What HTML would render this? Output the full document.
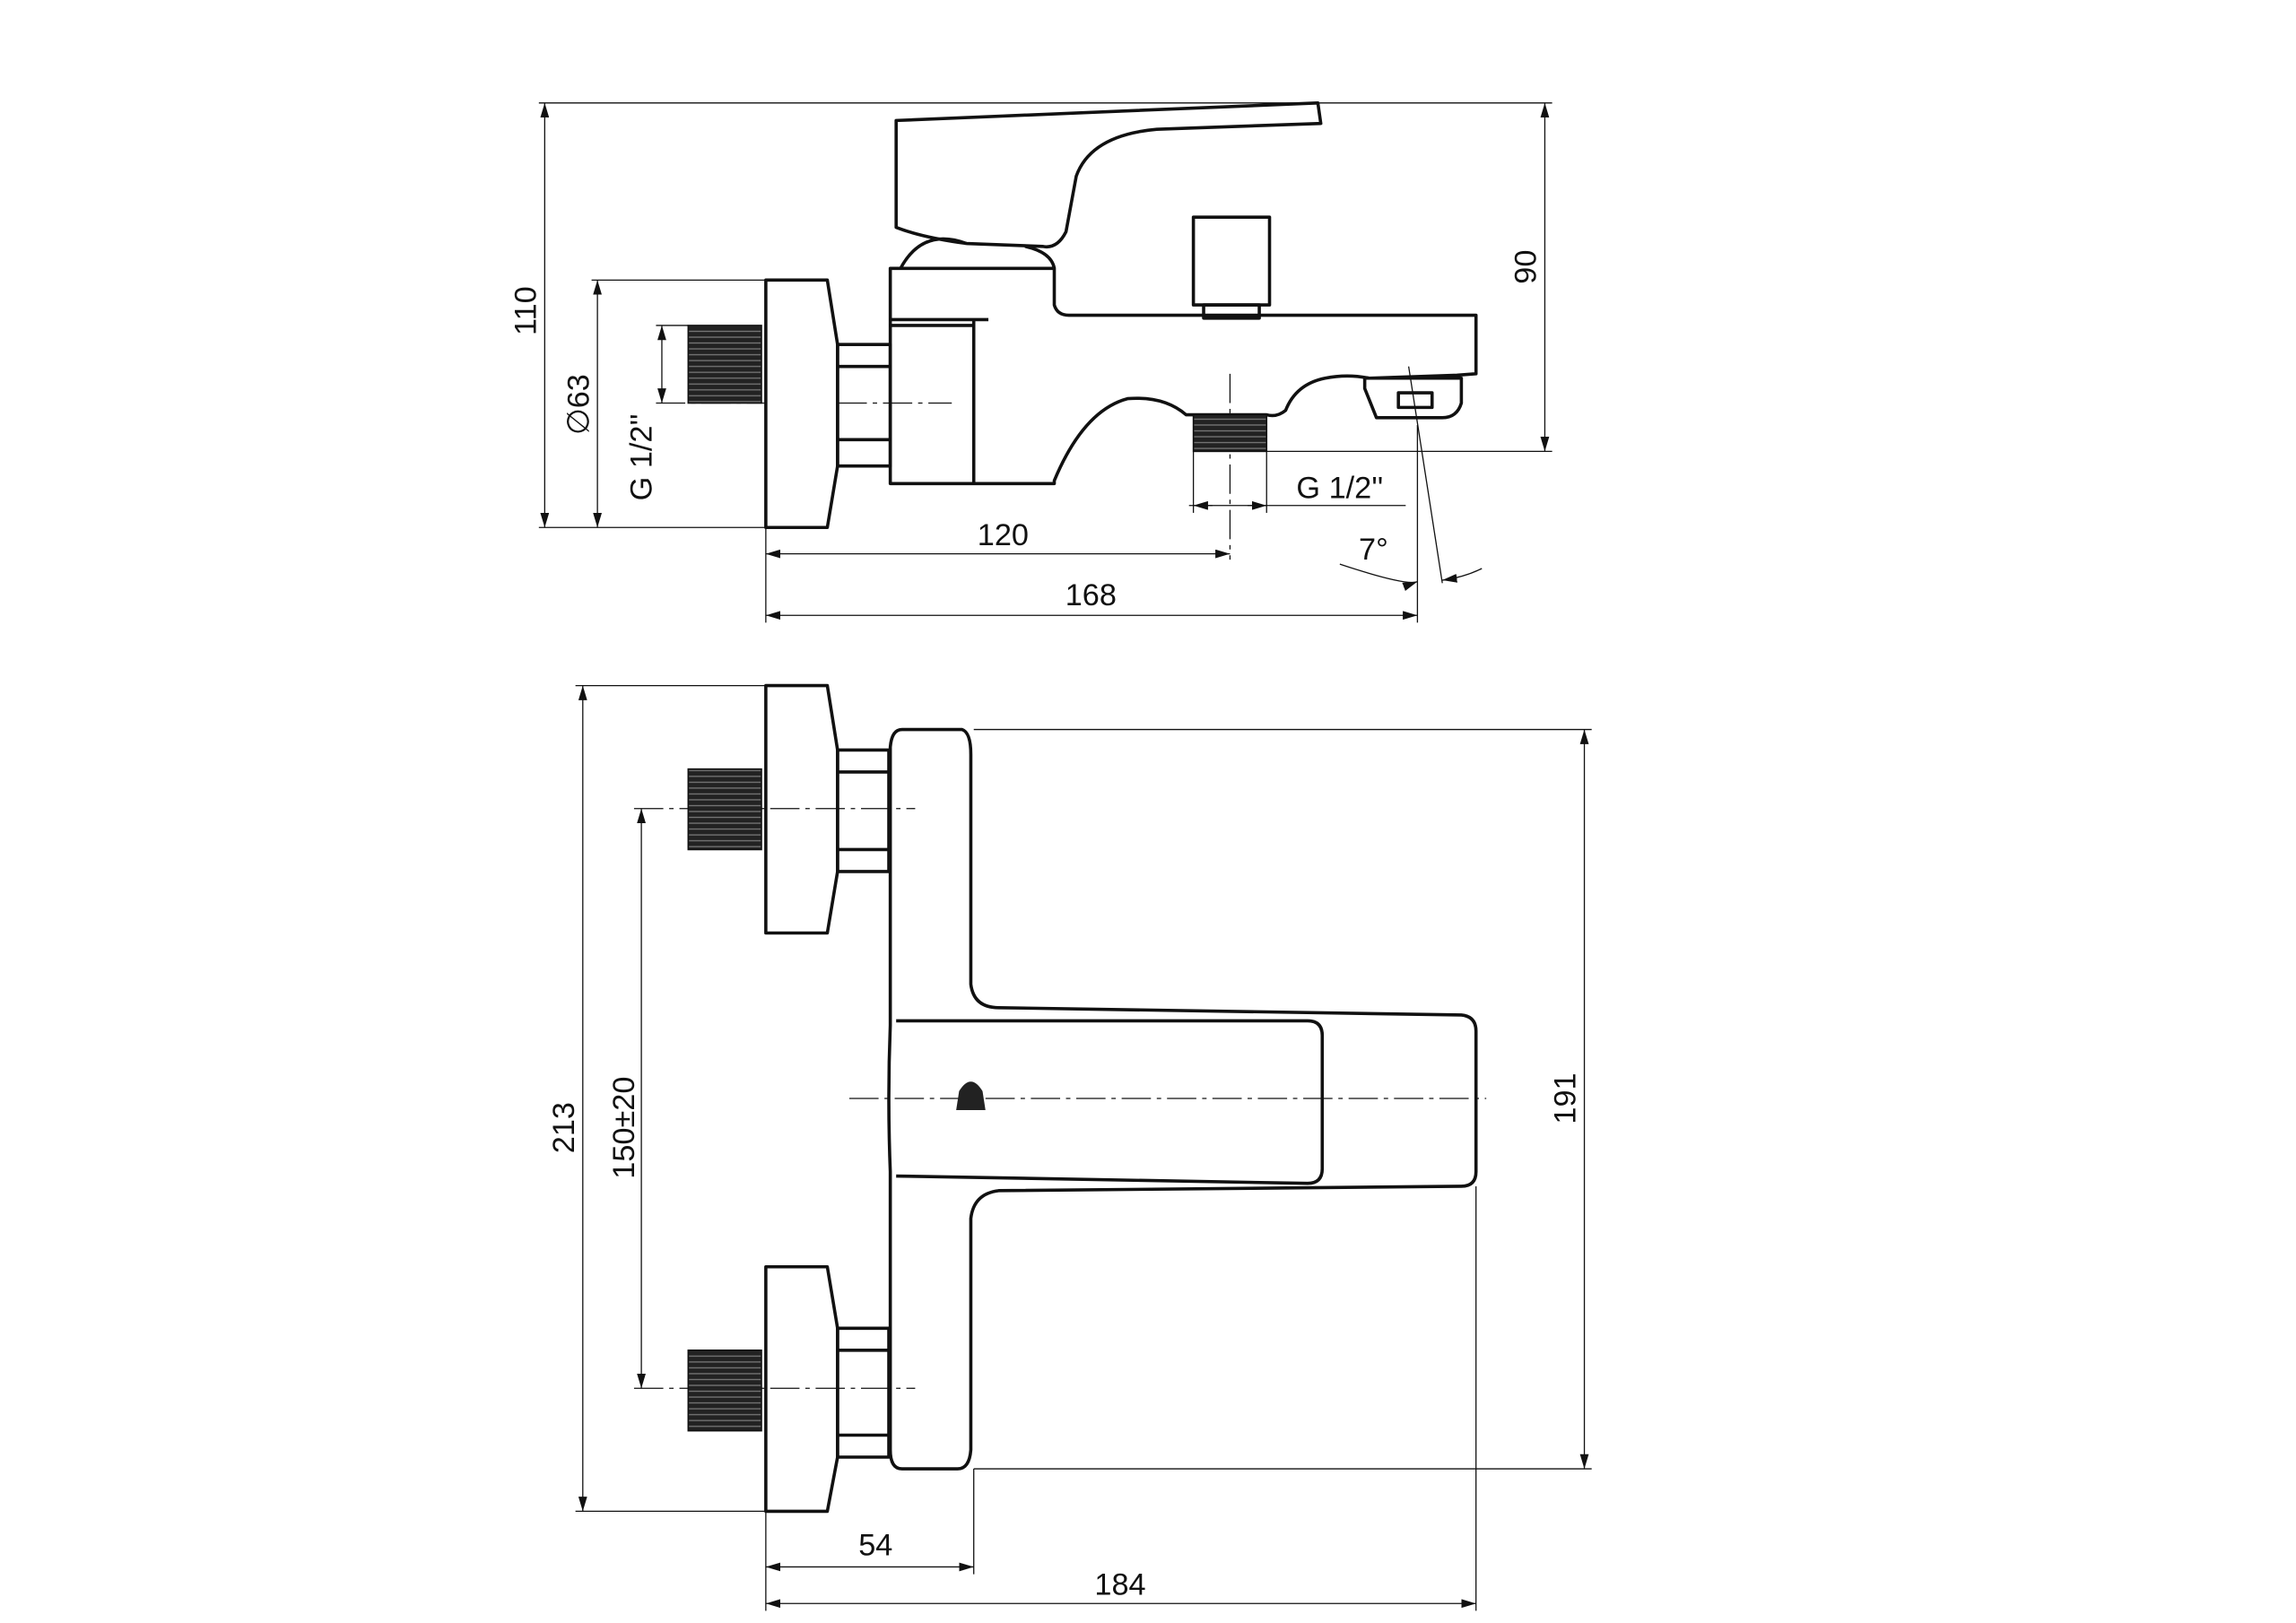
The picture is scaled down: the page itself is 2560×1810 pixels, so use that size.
<!DOCTYPE html>
<html><head><meta charset="utf-8"><style>
html,body{margin:0;padding:0;background:#fff;}
svg{display:block}
text{font-family:"Liberation Sans",sans-serif;font-size:21px;fill:#111}
</style></head><body>
<svg width="2560" height="1810" viewBox="0 0 1568 1108" xmlns="http://www.w3.org/2000/svg">
<defs>
<marker id="a" viewBox="0 0 10 6" refX="10" refY="3" markerWidth="10" markerHeight="6" orient="auto-start-reverse" markerUnits="userSpaceOnUse"><path d="M0,0 L10,3 L0,6 z" fill="#111"/></marker>
<pattern id="th" width="4" height="4" patternUnits="userSpaceOnUse"><rect width="4" height="4" fill="#222"/><line x1="0" y1="2" x2="4" y2="2" stroke="#777" stroke-width="0.8"/></pattern>
</defs>
<g fill="none" stroke="#111" stroke-width="0.8">
<!-- TOP VIEW dims -->
<line x1="368" y1="70" x2="1060" y2="70"/>
<line x1="372" y1="70" x2="372" y2="360" marker-start="url(#a)" marker-end="url(#a)"/>
<line x1="368" y1="360" x2="523" y2="360"/>
<line x1="404" y1="191" x2="523" y2="191"/>
<line x1="408" y1="191" x2="408" y2="360" marker-start="url(#a)" marker-end="url(#a)"/>
<line x1="448" y1="222" x2="470" y2="222"/>
<line x1="448" y1="275" x2="650" y2="275" stroke-dasharray="20,4,3,4"/>
<line x1="452" y1="222" x2="452" y2="275" marker-start="url(#a)" marker-end="url(#a)"/>
<line x1="1055" y1="70" x2="1055" y2="308" marker-start="url(#a)" marker-end="url(#a)"/>
<line x1="865" y1="308" x2="1060" y2="308"/>
<line x1="840" y1="255" x2="840" y2="382" stroke-dasharray="20,4,3,4"/>
<line x1="523" y1="360" x2="523" y2="425"/>
<line x1="968" y1="290" x2="968" y2="425"/>
<line x1="523" y1="378" x2="840" y2="378" marker-start="url(#a)" marker-end="url(#a)"/>
<line x1="523" y1="420" x2="968" y2="420" marker-start="url(#a)" marker-end="url(#a)"/>
<line x1="815" y1="308" x2="815" y2="350"/>
<line x1="865" y1="308" x2="865" y2="350"/>
<line x1="812" y1="345" x2="960" y2="345"/>
<line x1="828" y1="345" x2="815" y2="345" marker-end="url(#a)"/>
<line x1="852" y1="345" x2="865" y2="345" marker-end="url(#a)"/>
<line x1="962" y1="250" x2="985" y2="398"/>
<path d="M915,385 Q960,400 968,397" marker-end="url(#a)"/>
<path d="M1012,388 Q1000,394 985,396" marker-end="url(#a)"/>
<!-- BOTTOM VIEW dims -->
<line x1="393" y1="468" x2="523" y2="468"/>
<line x1="393" y1="1032" x2="523" y2="1032"/>
<line x1="398" y1="468" x2="398" y2="1032" marker-start="url(#a)" marker-end="url(#a)"/>
<line x1="438" y1="552" x2="438" y2="948" marker-start="url(#a)" marker-end="url(#a)"/>
<line x1="433" y1="552" x2="625" y2="552" stroke-dasharray="20,4,3,4"/>
<line x1="433" y1="948" x2="625" y2="948" stroke-dasharray="20,4,3,4"/>
<line x1="580" y1="750" x2="1015" y2="750" stroke-dasharray="20,4,3,4"/>
<line x1="665" y1="498" x2="1087" y2="498"/>
<line x1="665" y1="1003" x2="1087" y2="1003"/>
<line x1="1082" y1="498" x2="1082" y2="1003" marker-start="url(#a)" marker-end="url(#a)"/>
<line x1="523" y1="1032" x2="523" y2="1100"/>
<line x1="665" y1="1003" x2="665" y2="1075"/>
<line x1="1008" y1="810" x2="1008" y2="1100"/>
<line x1="523" y1="1070" x2="665" y2="1070" marker-start="url(#a)" marker-end="url(#a)"/>
<line x1="523" y1="1095" x2="1008" y2="1095" marker-start="url(#a)" marker-end="url(#a)"/>
</g>
<g fill="none" stroke="#111" stroke-width="2.2" stroke-linejoin="round">
<!-- TOP VIEW -->
<path d="M523,191 L565,191 L572,235 L572,318 L565,360 L523,360 Z" fill="#fff"/>
<rect x="572" y="235" width="36" height="83"/>
<line x1="572" y1="250" x2="608" y2="250"/><line x1="572" y1="300" x2="608" y2="300"/>
<path d="M612,82 L900,70 L902,84 L790,88 Q745,92 735,120 L728,158 Q722,170 712,168 L660,166 Q630,162 612,155 Z" fill="#fff"/>
<path d="M615,183 Q630,155 660,166 M700,168 Q718,172 720,183"/>
<path d="M608,183 L720,183 L720,208 Q722,215 730,215 L1008,215 L1008,255 L995,256 L935,258 Q920,255 905,258 Q885,262 878,280 Q872,285 865,283 L810,283 Q795,270 770,272 Q740,280 720,328 L720,330 L608,330 Z"/>
<path d="M608,218 L675,218 M665,218 L665,330 M608,222 L665,222"/>
<rect x="815" y="148" width="52" height="60"/>
<rect x="822" y="208" width="38" height="9"/>
<path d="M932,258 L998,258 L998,275 Q995,285 985,285 L940,285 L932,265 Z"/>
<rect x="955" y="268" width="23" height="10"/>
<!-- BOTTOM VIEW -->
<path d="M523,468 L565,468 L572,512 L572,595 L565,637 L523,637 Z"/>
<rect x="572" y="512" width="35" height="83"/>
<line x1="572" y1="527" x2="607" y2="527"/><line x1="572" y1="580" x2="607" y2="580"/>
<path d="M523,865 L565,865 L572,907 L572,995 L565,1032 L523,1032 Z"/>
<rect x="572" y="907" width="35" height="88"/>
<line x1="572" y1="922" x2="607" y2="922"/><line x1="572" y1="980" x2="607" y2="980"/>
<path d="M616,498 L657,498 Q663,500 663,515 L663,672 Q665,688 682,688 L998,693 Q1008,694 1008,704 L1008,800 Q1008,810 998,810 L682,813 Q665,815 663,832 L663,990 Q662,1003 654,1003 L616,1003 Q608,1003 608,990 L608,800 Q606,750 608,700 L608,510 Q609,498 616,498 Z"/>
<path d="M612,697 L893,697 Q903,697 903,707 L903,798 Q903,808 893,808 L612,803"/>
</g>
<g fill="url(#th)" stroke="#111" stroke-width="1">
<rect x="470" y="222" width="50" height="53"/>
<rect x="815" y="283" width="50" height="25"/>
<rect x="470" y="525" width="50" height="55"/>
<rect x="470" y="922" width="50" height="55"/>
</g>
<path d="M655,745 Q663,732 671,745 L673,758 L653,758 Z" fill="#222"/>
<g>
<text transform="translate(366,212) rotate(-90)" text-anchor="middle">110</text>
<text transform="translate(402,276) rotate(-90)" text-anchor="middle">∅63</text>
<text transform="translate(445,312) rotate(-90)" text-anchor="middle">G 1/2''</text>
<text transform="translate(1049,182) rotate(-90)" text-anchor="middle">90</text>
<text x="685" y="372" text-anchor="middle">120</text>
<text x="745" y="413" text-anchor="middle">168</text>
<text x="915" y="340" text-anchor="middle">G 1/2''</text>
<text x="938" y="382" text-anchor="middle">7°</text>
<text transform="translate(392,770) rotate(-90)" text-anchor="middle">213</text>
<text transform="translate(433,770) rotate(-90)" text-anchor="middle">150±20</text>
<text transform="translate(1076,750) rotate(-90)" text-anchor="middle">191</text>
<text x="598" y="1062" text-anchor="middle">54</text>
<text x="765" y="1089" text-anchor="middle">184</text>
</g>
</svg>
</body></html>
